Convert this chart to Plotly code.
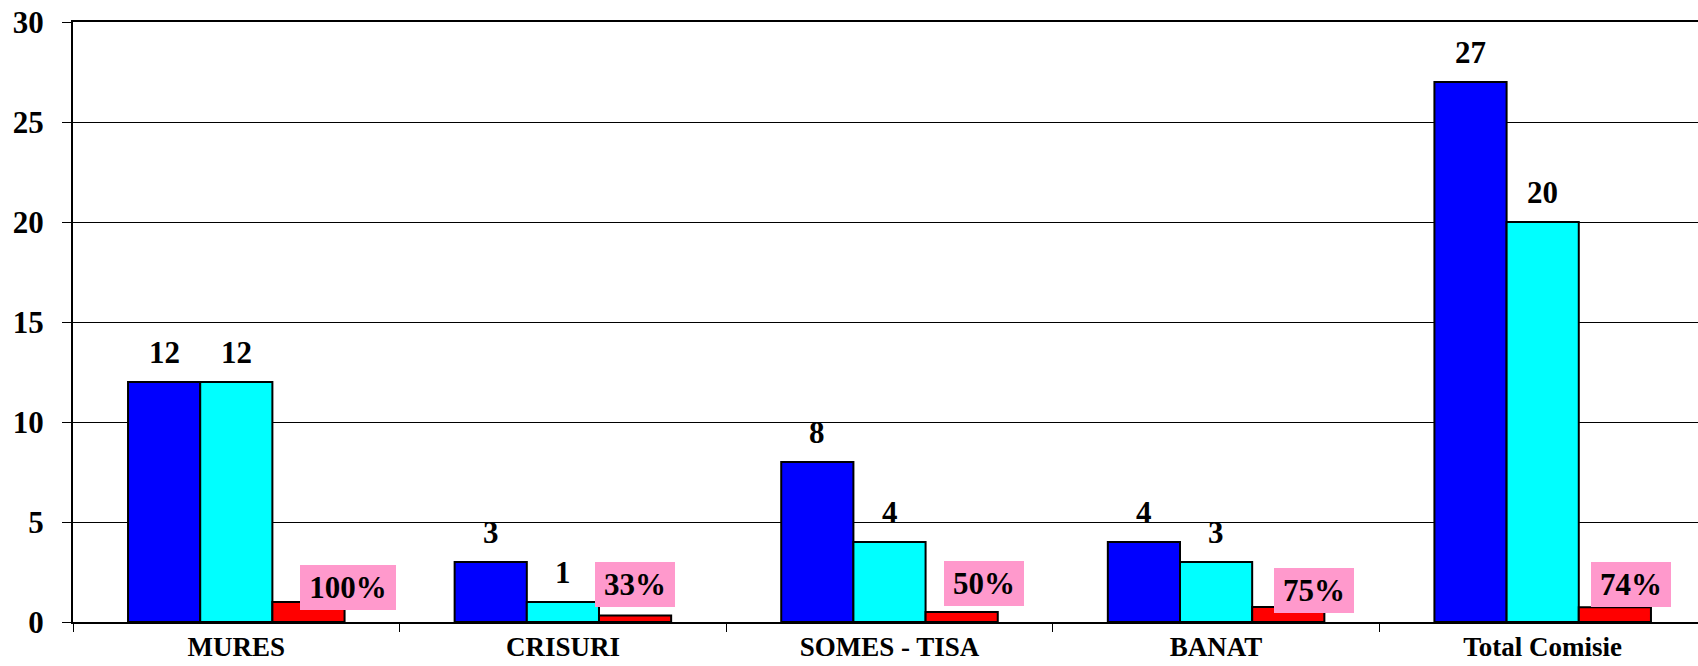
import plotly.graph_objects as go

categories = ["MURES", "CRISURI", "SOMES - TISA", "BANAT", "Total Comisie"]
series_blue = [12, 3, 8, 4, 27]
series_cyan = [12, 1, 4, 3, 20]
series_red = [1.0, 0.33, 0.5, 0.75, 0.74]
red_labels = ["100%", "33%", "50%", "75%", "74%"]
y_ticks = [0, 5, 10, 15, 20, 25, 30]

# style: pixel nudges of the pink percentage boxes (manually placed in the original)
pct_dx = [40, 0, 22, 26, 16]
pct_dy = [15, 31, 29, 17, 23]
pct_w = [96, 80, 80, 80, 80]

FONT = "Liberation Serif"
BARGAP = 0.337
barw = (1 - BARGAP) / 3

fig = go.Figure()
for vals, col in [(series_blue, "#0000FF"), (series_cyan, "#00FFFF"), (series_red, "#FF0000")]:
    fig.add_trace(go.Bar(
        x=categories, y=vals,
        marker=dict(color=col, line=dict(color="black", width=2)),
        showlegend=False, hoverinfo="skip",
    ))

ann = []
for j, vals in enumerate([series_blue, series_cyan]):
    for i, v in enumerate(vals):
        ann.append(dict(
            x=i + (j - 1) * barw, y=v, xref="x", yref="y",
            text=str(v), showarrow=False, yanchor="bottom", xanchor="center",
            yshift=10,
            font=dict(family=FONT, size=31, color="black", weight="bold"),
        ))
for i, v in enumerate(series_red):
    ann.append(dict(
        x=i + barw, y=v, xref="x", yref="y",
        text=red_labels[i], showarrow=False, yanchor="middle", xanchor="center",
        xshift=pct_dx[i], yshift=pct_dy[i],
        width=pct_w[i], height=45, borderpad=0, borderwidth=0,
        bgcolor="#FF99CC",
        font=dict(family=FONT, size=31, color="black", weight="bold"),
    ))

fig.update_layout(
    template="none",
    width=1698, height=666,
    margin=dict(l=73, r=0, t=22, b=44, autoexpand=False),
    paper_bgcolor="white", plot_bgcolor="white",
    barmode="group", bargap=BARGAP, bargroupgap=0,
    showlegend=False,
    hovermode=False,
    annotations=ann,
    xaxis=dict(
        type="category", range=[-0.5, 4.5 - 8 / 327], automargin=False,
        showline=True, linecolor="black", linewidth=2, mirror=True,
        ticks="outside", tickson="boundaries", ticklen=8, tickcolor="black", tickwidth=1,
        tickfont=dict(family=FONT, size=27, color="black", weight="bold"),
        ticklabeloverflow="allow",
        showgrid=False, zeroline=False,
    ),
    yaxis=dict(
        range=[0, 30], tickvals=y_ticks, ticktext=[str(t) for t in y_ticks],
        automargin=False,
        showline=True, linecolor="black", linewidth=2,
        ticks="outside", ticklen=9, tickcolor="black", tickwidth=1,
        ticklabelstandoff=12, ticklabeloverflow="allow",
        tickfont=dict(family=FONT, size=31, color="black", weight="bold"),
        showgrid=True, gridcolor="black", gridwidth=1, zeroline=False,
    ),
)

fig.write_html(
    "out.html",
    config={"displayModeBar": False, "staticPlot": True},
    post_script="document.body.style.margin='0';document.body.style.overflow='hidden';",
)
